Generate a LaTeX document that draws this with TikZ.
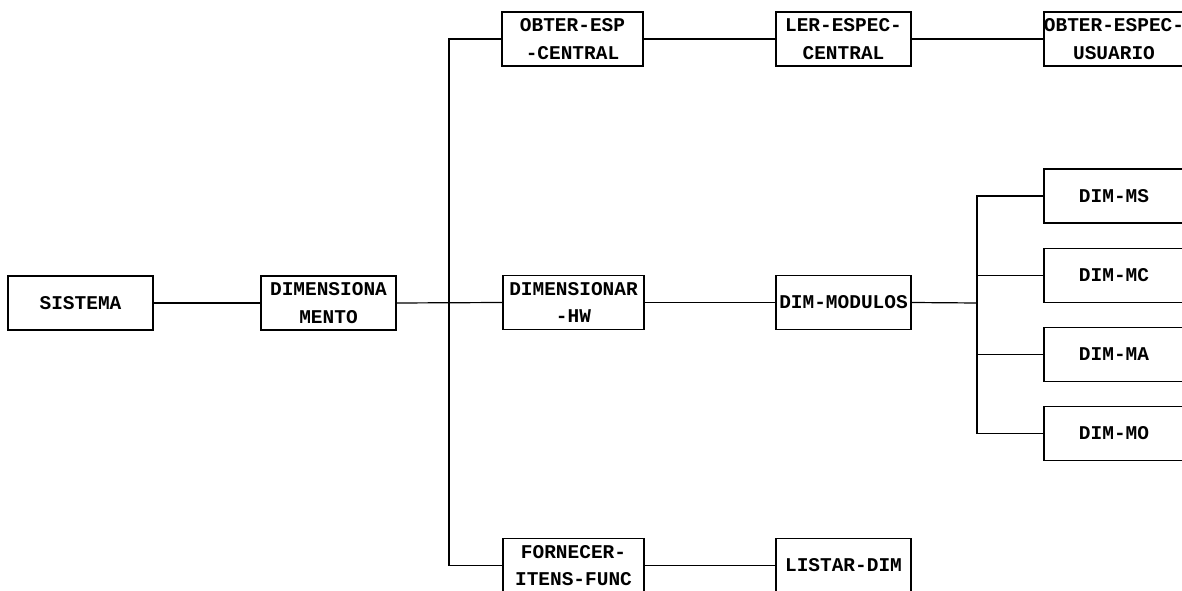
\documentclass[tikz,border=0pt]{standalone}
\usepackage{fontspec}
\setmonofont{Liberation Mono}
\begin{document}
\begin{tikzpicture}[x=0.75pt,y=-0.75pt,
  box/.style={draw=black, line width=0.9pt, rectangle, inner sep=0pt,
    minimum height=40.5pt, align=center,
    font=\fontsize{14.6}{20.5}\selectfont\ttfamily\bfseries},
  wA/.style={minimum width=108.75pt},
  wB/.style={minimum width=101.25pt},
  wC/.style={minimum width=105.75pt},
  wD/.style={minimum width=105pt},
  link/.style={draw=black, line width=0.9pt}]
\useasboundingbox (0,0) rectangle (1182,591);
\clip (0,0) rectangle (1182,591);
\fill[white] (0,0) rectangle (1182,591);
% nodes
\node[box,wA] (sis) at (80.5,303) {SISTEMA};
\node[box,wB] (dim) at (328.5,303) {DIMENSIONA\\MENTO};
\node[box,wC] (oec) at (572.5,39) {OBTER-ESP\\-CENTRAL};
\node[box,wB] (lec) at (843.5,39) {LER-ESPEC-\\CENTRAL};
\node[box,wD] (oeu) at (1114,39) {OBTER-ESPEC-\\USUARIO};
\node[box,wC] (dhw) at (573.5,302.5) {DIMENSIONAR\\-HW};
\node[box,wB] (dmo) at (843.5,302.5) {DIM-MODULOS};
\node[box,wD] (dms) at (1114,196) {DIM-MS};
\node[box,wD] (dmc) at (1114,275.5) {DIM-MC};
\node[box,wD] (dma) at (1114,354.5) {DIM-MA};
\node[box,wD] (dmz) at (1114,433.5) {DIM-MO};
\node[box,wC] (fif) at (573.5,565.5) {FORNECER-\\ITENS-FUNC};
\node[box,wB] (lsd) at (843.5,565.5) {LISTAR-DIM};
% buses
\coordinate (b1) at (449,303);
\coordinate (b2) at (977,303);
% connectors
\draw[link] (sis.east) -- (dim.west);
\draw[link] (dim.east) -- (dhw.west);
\draw[link] (oec.west) -- (oec.west -| b1) -- (fif.west -| b1) -- (fif.west);
\draw[link] (oec.east) -- (lec.west);
\draw[link] (lec.east) -- (oeu.west);
\draw[link] (dhw.east) -- (dmo.west);
\draw[link] (dmo.east) -- (b2);
\draw[link] (dms.west) -- (dms.west -| b2) -- (dmz.west -| b2) -- (dmz.west);
\draw[link] (dmc.west) -- (dmc.west -| b2);
\draw[link] (dma.west) -- (dma.west -| b2);
\draw[link] (fif.east) -- (lsd.west);
\end{tikzpicture}
\end{document}
